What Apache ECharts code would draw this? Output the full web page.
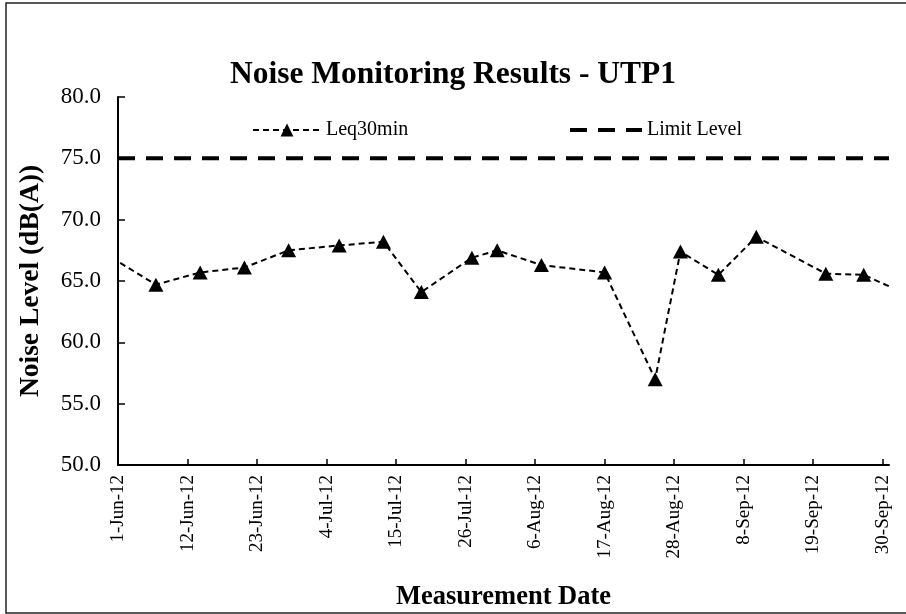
<!DOCTYPE html>
<html>
<head>
<meta charset="utf-8">
<script src="https://cdn.jsdelivr.net/npm/echarts@6/dist/echarts.min.js"></script>
<style>html,body{margin:0;padding:0;background:#fff}#c{width:906px;height:614px}</style>
</head>
<body>
<div id="c"></div>
<script>
// ---- data ----
const measureDates = ['2012-05-31','2012-06-07','2012-06-14','2012-06-21','2012-06-28','2012-07-06','2012-07-13','2012-07-19','2012-07-27','2012-07-31','2012-08-07','2012-08-17','2012-08-25','2012-08-29','2012-09-04','2012-09-10','2012-09-21','2012-09-27','2012-10-03'];
const leqValues = [66.9,64.7,65.7,66.1,67.5,67.9,68.2,64.1,66.9,67.5,66.3,65.7,57.0,67.4,65.5,68.6,65.6,65.5,64.1];
const limitLevel = 75.0;
const xTickLabels = ['1-Jun-12','12-Jun-12','23-Jun-12','4-Jul-12','15-Jul-12','26-Jul-12','6-Aug-12','17-Aug-12','28-Aug-12','8-Sep-12','19-Sep-12','30-Sep-12'];
const axisStartDate = '2012-06-01';
const axisEndDate = '2012-10-01';
const tickStepDays = 11;
const yMin = 50, yMax = 80, yStep = 5;

// ---- helpers ----
function dayOffset(s){
  const p = s.split('-').map(Number);
  const q = axisStartDate.split('-').map(Number);
  return (Date.UTC(p[0],p[1]-1,p[2]) - Date.UTC(q[0],q[1]-1,q[2]))/86400000;
}
const xMax = dayOffset(axisEndDate);
const leqData = measureDates.map((d,i)=>[dayOffset(d), leqValues[i]]);
const limitData = [[0, limitLevel],[xMax, limitLevel]];

const serif = 'Liberation Serif';
const chart = echarts.init(document.getElementById('c'));
chart.setOption({
  animation:false,
  backgroundColor:'#fff',
  title:{
    text:'Noise Monitoring Results - UTP1',
    left:'center', top:54,
    textStyle:{fontFamily:serif,fontWeight:'bold',fontSize:31.5,color:'#000'}
  },
  legend:[
    {data:['Leq30min'],left:247,top:115,itemWidth:68,itemHeight:16,itemGap:0,
     textStyle:{fontFamily:serif,fontSize:20,color:'#000'}},
    {data:[{name:'Limit Level',itemStyle:{opacity:0,color:'rgba(0,0,0,0)',borderWidth:0}}],
     left:563,top:115,itemWidth:72,itemHeight:16,itemGap:0,
     lineStyle:{width:4,color:'#000',type:[17,11]},
     textStyle:{fontFamily:serif,fontSize:20,color:'#000'}}
  ],
  graphic:[{type:'rect',shape:{x:6,y:3,width:920,height:610},
    style:{fill:'none',stroke:'#222',lineWidth:1.5},silent:true}],
  grid:{left:118,right:17,top:97,bottom:149,containLabel:false,outerBoundsMode:'none'},
  xAxis:{
    type:'value',min:0,max:xMax,interval:tickStepDays,
    name:'Measurement Date',nameLocation:'middle',nameGap:119,
    nameTextStyle:{fontFamily:serif,fontWeight:'bold',fontSize:26.5,color:'#000'},
    axisLine:{lineStyle:{color:'#000',width:2}},
    axisTick:{inside:true,length:6,lineStyle:{color:'#000',width:1.5}},
    splitLine:{show:false},
    axisLabel:{rotate:90,margin:10,fontFamily:serif,fontSize:19,color:'#000',
      showMaxLabel:false,
      formatter:function(v){ if(v % tickStepDays !== 0) return ''; return xTickLabels[v/tickStepDays] || ''; }}
  },
  yAxis:{
    type:'value',min:yMin,max:yMax,interval:yStep,
    name:'Noise Level (dB(A))',nameLocation:'middle',nameGap:73,
    nameTextStyle:{fontFamily:serif,fontWeight:'bold',fontSize:27.5,color:'#000'},
    axisLine:{show:true,lineStyle:{color:'#000',width:2}},
    axisTick:{show:true,inside:true,length:7,lineStyle:{color:'#000',width:1.5}},
    splitLine:{show:false},
    axisLabel:{margin:17,fontFamily:serif,fontSize:23,color:'#000',formatter:v=>v.toFixed(1)}
  },
  series:[
    {name:'Leq30min',type:'line',data:leqData,symbol:'triangle',symbolSize:[15,14],
     clip:true,itemStyle:{color:'#000'},
     lineStyle:{color:'#000',width:2,type:[6,4]}},
    {name:'Limit Level',type:'line',data:limitData,symbol:'none',clip:true,
     itemStyle:{color:'#000'},
     lineStyle:{color:'#000',width:4,type:[17,11]}}
  ]
});
</script>
</body>
</html>
